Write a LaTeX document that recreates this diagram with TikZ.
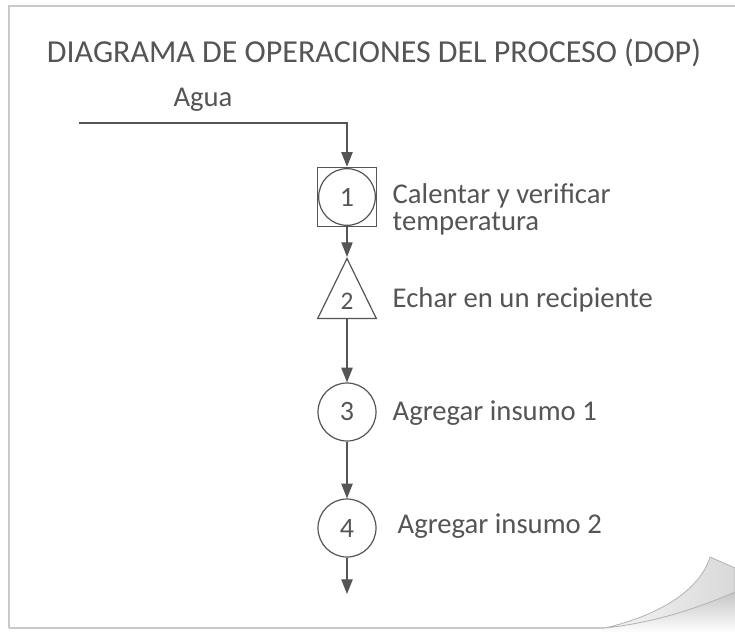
\documentclass[tikz,border=0pt]{standalone}
\usepackage{fontspec}
\setmainfont{Carlito}
\usetikzlibrary{arrows.meta,shapes.geometric,positioning}
\definecolor{ink}{RGB}{85,85,85}
\definecolor{pageedge}{RGB}{200,200,206}

\begin{document}
\begin{tikzpicture}[
    x=0.75pt, y=-0.75pt,
    opcircle/.style={circle, draw=ink, line width=0.9pt, minimum size=43.5pt,
                     inner sep=0pt, text=ink, font=\fontsize{21}{24}\selectfont},
    combox/.style={rectangle, draw=ink, line width=0.9pt, minimum size=44.5pt, inner sep=0pt},
    storetri/.style={isosceles triangle, isosceles triangle stretches, shape border rotate=90,
                     draw=ink, line width=0.9pt, minimum width=44pt, minimum height=45pt,
                     inner sep=0pt, text=ink, font=\fontsize{19}{22}\selectfont},
    optext/.style={anchor=base west, text=ink, align=left,
                   font=\fontsize{21.5}{20}\selectfont},
    flow/.style={draw=ink, line width=0.9pt, -{Triangle[length=11pt,width=8.5pt]}}
]
    \useasboundingbox (0,0) rectangle (735,633);

    % Page with curled corner
    \fill[white] (9,6) -- (735,6) -- (735,568) -- (710,557)
        .. controls (700,590) and (660,615) .. (605,628) -- (9,628) -- cycle;
    \draw[pageedge, line width=1.2pt] (9,628) -- (9,6) -- (735,6);
    \draw[pageedge, line width=1.2pt] (9,628) -- (605,628);
    \shade[top color=gray!45, bottom color=white] (605,628)
        .. controls (660,622) and (705,605) .. (735,592) -- (735,633) -- (600,633) -- cycle;
    \shade[left color=gray!8, right color=gray!30, draw=gray!60, line width=0.6pt] (605,628)
        .. controls (660,615) and (700,590) .. (710,557) -- (735,568) -- (735,592)
        .. controls (705,605) and (660,622) .. (605,628);

    % Title
    \node[text=ink, font=\fontsize{24}{29}\selectfont, anchor=base] (title) at (374,62)
        {DIAGRAMA DE OPERACIONES DEL PROCESO (DOP)};

    % Input
    \node[text=ink, font=\fontsize{21.5}{26}\selectfont, anchor=base] (agua) at (203,106) {Agua};
    \coordinate (aguain) at (79,123);

    % Operations
    \node[combox] (box1) at (347,197) {};
    \node[opcircle, minimum size=42.5pt] (op1) at (347,197) {1};
    \node[storetri] (op2) at (347,301) {2};
    \node[opcircle] (op3) at (347,412) {3};
    \node[opcircle] (op4) at (347,528) {4};
    \coordinate (out) at (347,594);

    % Descriptions
    \node[optext] (txt1) at (388,230) {Calentar y verificar\\temperatura};
    \node[optext] (txt2) at (388,307) {Echar en un recipiente};
    \node[optext] (txt3) at (388,420) {Agregar insumo 1};
    \node[optext] (txt4) at (393,533) {Agregar insumo 2};

    % Arrows
    \draw[flow] (aguain) -| (box1.north);
    \draw[flow] (box1.south) -- (op2.apex);
    \draw[flow] (op2.south) -- (op3.north);
    \draw[flow] (op3.south) -- (op4.north);
    \draw[flow] (op4.south) -- (out);
\end{tikzpicture}
\end{document}
